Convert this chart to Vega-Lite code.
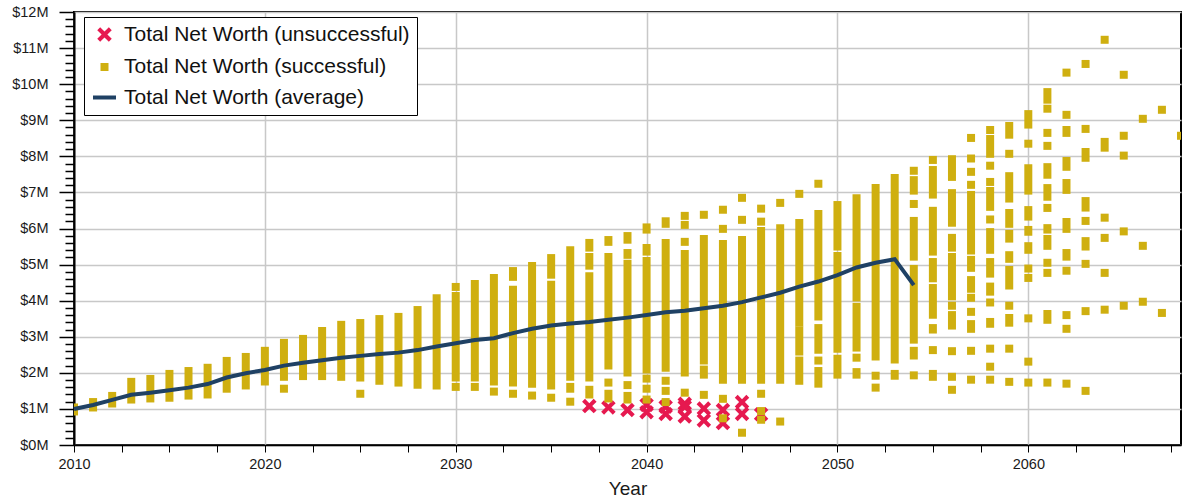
{
  "$schema": "https://vega.github.io/schema/vega-lite/v6.json",
  "width": 1107,
  "height": 433,
  "autosize": {"type": "none"},
  "padding": {"left": 74, "top": 12, "right": 2, "bottom": 54},
  "background": "white",
  "resolve": {"axis": {"y": "independent"}},
  "config": {
    "font": "Liberation Sans",
    "view": {"stroke": "black", "strokeWidth": 2},
    "axis": {
      "labelFont": "Liberation Sans",
      "titleFont": "Liberation Sans",
      "labelColor": "#1a1a1a",
      "titleColor": "#1a1a1a",
      "labelFontSize": 14.5,
      "titleFontSize": 19,
      "titleFontWeight": "normal",
      "domainColor": "black",
      "tickColor": "black",
      "gridColor": "#c8c8c8",
      "gridWidth": 1.5
    },
    "axisY": {"ticks": true, "tickColor": "#000000", "tickOpacity": 1, "tickWidth": 1.5, "zindex": 1},
    "legend": {
      "title": null,
      "orient": "none",
      "legendX": 10,
      "legendY": 5,
      "strokeColor": "black",
      "fillColor": "white",
      "padding": 7,
      "symbolSize": 529,
      "symbolStrokeWidth": 4,
      "labelFontSize": 21,
      "labelFont": "Liberation Sans",
      "labelColor": "#111111",
      "labelLimit": 0,
      "labelOffset": 6,
      "rowPadding": 4.5
    }
  },
  "datasets": {
    "successful": [
      {"year": 2010, "lo": 0.93, "hi": 1.04},
      {"year": 2011, "lo": 1.04, "hi": 1.19},
      {"year": 2012, "lo": 1.15, "hi": 1.36},
      {"year": 2013, "lo": 1.26, "hi": 1.75},
      {"year": 2014, "lo": 1.29, "hi": 1.83},
      {"year": 2015, "lo": 1.31, "hi": 1.97},
      {"year": 2016, "lo": 1.37, "hi": 2.05},
      {"year": 2017, "lo": 1.40, "hi": 2.14},
      {"year": 2018, "lo": 1.56, "hi": 2.33},
      {"year": 2019, "lo": 1.65, "hi": 2.44},
      {"year": 2020, "lo": 1.76, "hi": 2.61},
      {"year": 2021, "lo": 1.89, "hi": 2.83},
      {"year": 2021, "lo": 1.56, "hi": 1.56},
      {"year": 2022, "lo": 1.91, "hi": 2.94},
      {"year": 2023, "lo": 1.91, "hi": 3.16},
      {"year": 2024, "lo": 1.89, "hi": 3.33},
      {"year": 2025, "lo": 1.87, "hi": 3.38},
      {"year": 2025, "lo": 1.42, "hi": 1.42},
      {"year": 2026, "lo": 1.78, "hi": 3.49},
      {"year": 2027, "lo": 1.73, "hi": 3.55},
      {"year": 2028, "lo": 1.67, "hi": 3.74},
      {"year": 2029, "lo": 1.65, "hi": 4.07},
      {"year": 2030, "lo": 4.38, "hi": 4.38},
      {"year": 2030, "lo": 1.87, "hi": 4.13},
      {"year": 2030, "lo": 1.61, "hi": 1.61},
      {"year": 2031, "lo": 1.87, "hi": 4.46},
      {"year": 2031, "lo": 1.61, "hi": 1.61},
      {"year": 2032, "lo": 1.76, "hi": 4.63},
      {"year": 2032, "lo": 1.48, "hi": 1.48},
      {"year": 2033, "lo": 4.66, "hi": 4.82},
      {"year": 2033, "lo": 1.73, "hi": 4.30},
      {"year": 2033, "lo": 1.42, "hi": 1.42},
      {"year": 2034, "lo": 1.70, "hi": 4.96},
      {"year": 2034, "lo": 1.37, "hi": 1.37},
      {"year": 2035, "lo": 4.72, "hi": 5.18},
      {"year": 2035, "lo": 1.65, "hi": 4.44},
      {"year": 2035, "lo": 1.31, "hi": 1.31},
      {"year": 2036, "lo": 1.89, "hi": 5.40},
      {"year": 2036, "lo": 1.56, "hi": 1.61},
      {"year": 2036, "lo": 1.20, "hi": 1.20},
      {"year": 2037, "lo": 5.47, "hi": 5.60},
      {"year": 2037, "lo": 4.97, "hi": 5.21},
      {"year": 2037, "lo": 1.87, "hi": 4.68},
      {"year": 2037, "lo": 1.40, "hi": 1.53},
      {"year": 2038, "lo": 5.63, "hi": 5.68},
      {"year": 2038, "lo": 2.20, "hi": 5.21},
      {"year": 2038, "lo": 1.73, "hi": 1.73},
      {"year": 2038, "lo": 1.29, "hi": 1.42},
      {"year": 2039, "lo": 5.69, "hi": 5.79},
      {"year": 2039, "lo": 5.27, "hi": 5.32},
      {"year": 2039, "lo": 2.01, "hi": 5.02},
      {"year": 2039, "lo": 1.66, "hi": 1.66},
      {"year": 2039, "lo": 1.26, "hi": 1.36},
      {"year": 2040, "lo": 5.97, "hi": 6.03},
      {"year": 2040, "lo": 5.36, "hi": 5.46},
      {"year": 2040, "lo": 2.09, "hi": 5.10},
      {"year": 2040, "lo": 1.84, "hi": 1.84},
      {"year": 2040, "lo": 1.56, "hi": 1.56},
      {"year": 2040, "lo": 1.26, "hi": 1.26},
      {"year": 2041, "lo": 6.13, "hi": 6.20},
      {"year": 2041, "lo": 2.14, "hi": 5.60},
      {"year": 2041, "lo": 1.78, "hi": 1.78},
      {"year": 2041, "lo": 1.50, "hi": 1.50},
      {"year": 2041, "lo": 1.19, "hi": 1.19},
      {"year": 2042, "lo": 6.35, "hi": 6.35},
      {"year": 2042, "lo": 6.10, "hi": 6.10},
      {"year": 2042, "lo": 5.63, "hi": 5.63},
      {"year": 2042, "lo": 2.01, "hi": 5.29},
      {"year": 2042, "lo": 1.45, "hi": 1.45},
      {"year": 2043, "lo": 6.38, "hi": 6.38},
      {"year": 2043, "lo": 2.34, "hi": 5.71},
      {"year": 2043, "lo": 1.95, "hi": 2.09},
      {"year": 2043, "lo": 1.39, "hi": 1.39},
      {"year": 2044, "lo": 6.52, "hi": 6.52},
      {"year": 2044, "lo": 5.99, "hi": 5.99},
      {"year": 2044, "lo": 1.81, "hi": 5.57},
      {"year": 2044, "lo": 1.28, "hi": 1.28},
      {"year": 2044, "lo": 0.74, "hi": 0.74},
      {"year": 2045, "lo": 6.85, "hi": 6.85},
      {"year": 2045, "lo": 6.24, "hi": 6.24},
      {"year": 2045, "lo": 1.81, "hi": 5.68},
      {"year": 2045, "lo": 0.34, "hi": 0.34},
      {"year": 2046, "lo": 6.55, "hi": 6.55},
      {"year": 2046, "lo": 6.19, "hi": 6.19},
      {"year": 2046, "lo": 1.81, "hi": 5.93},
      {"year": 2046, "lo": 1.42, "hi": 1.42},
      {"year": 2046, "lo": 0.94, "hi": 0.94},
      {"year": 2046, "lo": 0.70, "hi": 0.70},
      {"year": 2047, "lo": 6.71, "hi": 6.71},
      {"year": 2047, "lo": 1.81, "hi": 6.01},
      {"year": 2047, "lo": 0.65, "hi": 0.65},
      {"year": 2048, "lo": 6.96, "hi": 6.96},
      {"year": 2048, "lo": 3.39, "hi": 6.15},
      {"year": 2048, "lo": 2.59, "hi": 3.17},
      {"year": 2048, "lo": 1.78, "hi": 2.34},
      {"year": 2049, "lo": 7.24, "hi": 7.24},
      {"year": 2049, "lo": 3.56, "hi": 6.40},
      {"year": 2049, "lo": 2.64, "hi": 3.24},
      {"year": 2049, "lo": 2.34, "hi": 2.34},
      {"year": 2049, "lo": 1.70, "hi": 2.05},
      {"year": 2050, "lo": 5.50, "hi": 6.65},
      {"year": 2050, "lo": 2.67, "hi": 5.24},
      {"year": 2050, "lo": 1.95, "hi": 2.39},
      {"year": 2051, "lo": 4.09, "hi": 6.84},
      {"year": 2051, "lo": 2.70, "hi": 3.83},
      {"year": 2051, "lo": 2.42, "hi": 2.42},
      {"year": 2051, "lo": 1.95, "hi": 2.02},
      {"year": 2052, "lo": 2.45, "hi": 7.12},
      {"year": 2052, "lo": 1.92, "hi": 1.92},
      {"year": 2052, "lo": 1.59, "hi": 1.59},
      {"year": 2053, "lo": 2.37, "hi": 7.40},
      {"year": 2053, "lo": 1.92, "hi": 1.97},
      {"year": 2054, "lo": 7.60, "hi": 7.60},
      {"year": 2054, "lo": 7.05, "hi": 7.34},
      {"year": 2054, "lo": 6.68, "hi": 6.68},
      {"year": 2054, "lo": 5.22, "hi": 6.21},
      {"year": 2054, "lo": 2.92, "hi": 4.88},
      {"year": 2054, "lo": 2.48, "hi": 2.61},
      {"year": 2054, "lo": 1.93, "hi": 1.93},
      {"year": 2055, "lo": 7.90, "hi": 7.90},
      {"year": 2055, "lo": 6.94, "hi": 7.62},
      {"year": 2055, "lo": 5.36, "hi": 6.49},
      {"year": 2055, "lo": 4.62, "hi": 5.07},
      {"year": 2055, "lo": 3.61, "hi": 4.35},
      {"year": 2055, "lo": 3.20, "hi": 3.24},
      {"year": 2055, "lo": 2.63, "hi": 2.63},
      {"year": 2055, "lo": 1.89, "hi": 1.97},
      {"year": 2056, "lo": 7.43, "hi": 7.92},
      {"year": 2056, "lo": 6.16, "hi": 6.98},
      {"year": 2056, "lo": 5.47, "hi": 5.74},
      {"year": 2056, "lo": 4.12, "hi": 5.21},
      {"year": 2056, "lo": 3.86, "hi": 3.86},
      {"year": 2056, "lo": 3.31, "hi": 3.60},
      {"year": 2056, "lo": 2.60, "hi": 2.60},
      {"year": 2056, "lo": 1.89, "hi": 1.89},
      {"year": 2056, "lo": 1.53, "hi": 1.53},
      {"year": 2057, "lo": 8.51, "hi": 8.51},
      {"year": 2057, "lo": 7.94, "hi": 7.94},
      {"year": 2057, "lo": 7.57, "hi": 7.57},
      {"year": 2057, "lo": 7.21, "hi": 7.21},
      {"year": 2057, "lo": 5.39, "hi": 6.93},
      {"year": 2057, "lo": 4.91, "hi": 5.13},
      {"year": 2057, "lo": 4.33, "hi": 4.57},
      {"year": 2057, "lo": 4.08, "hi": 4.08},
      {"year": 2057, "lo": 3.69, "hi": 3.69},
      {"year": 2057, "lo": 3.22, "hi": 3.35},
      {"year": 2057, "lo": 2.61, "hi": 2.61},
      {"year": 2057, "lo": 1.81, "hi": 1.81},
      {"year": 2058, "lo": 8.73, "hi": 8.73},
      {"year": 2058, "lo": 8.07, "hi": 8.48},
      {"year": 2058, "lo": 7.74, "hi": 7.74},
      {"year": 2058, "lo": 7.29, "hi": 7.29},
      {"year": 2058, "lo": 6.60, "hi": 7.04},
      {"year": 2058, "lo": 6.25, "hi": 6.25},
      {"year": 2058, "lo": 5.41, "hi": 5.90},
      {"year": 2058, "lo": 4.75, "hi": 5.07},
      {"year": 2058, "lo": 4.25, "hi": 4.39},
      {"year": 2058, "lo": 3.95, "hi": 3.95},
      {"year": 2058, "lo": 3.36, "hi": 3.41},
      {"year": 2058, "lo": 2.67, "hi": 2.67},
      {"year": 2058, "lo": 2.17, "hi": 2.17},
      {"year": 2058, "lo": 1.81, "hi": 1.81},
      {"year": 2059, "lo": 8.60, "hi": 8.84},
      {"year": 2059, "lo": 8.07, "hi": 8.07},
      {"year": 2059, "lo": 6.83, "hi": 7.45},
      {"year": 2059, "lo": 6.13, "hi": 6.43},
      {"year": 2059, "lo": 5.72, "hi": 5.85},
      {"year": 2059, "lo": 5.16, "hi": 5.26},
      {"year": 2059, "lo": 4.42, "hi": 4.85},
      {"year": 2059, "lo": 3.86, "hi": 3.86},
      {"year": 2059, "lo": 3.39, "hi": 3.52},
      {"year": 2059, "lo": 2.67, "hi": 2.67},
      {"year": 2059, "lo": 1.75, "hi": 1.75},
      {"year": 2060, "lo": 8.88, "hi": 9.17},
      {"year": 2060, "lo": 8.35, "hi": 8.35},
      {"year": 2060, "lo": 7.05, "hi": 7.67},
      {"year": 2060, "lo": 6.33, "hi": 6.51},
      {"year": 2060, "lo": 5.91, "hi": 5.96},
      {"year": 2060, "lo": 5.41, "hi": 5.51},
      {"year": 2060, "lo": 4.89, "hi": 4.89},
      {"year": 2060, "lo": 4.63, "hi": 4.63},
      {"year": 2060, "lo": 3.51, "hi": 3.51},
      {"year": 2060, "lo": 2.31, "hi": 2.31},
      {"year": 2060, "lo": 1.73, "hi": 1.73},
      {"year": 2061, "lo": 9.57, "hi": 9.78},
      {"year": 2061, "lo": 9.32, "hi": 9.32},
      {"year": 2061, "lo": 8.65, "hi": 8.65},
      {"year": 2061, "lo": 8.29, "hi": 8.29},
      {"year": 2061, "lo": 7.49, "hi": 7.70},
      {"year": 2061, "lo": 6.88, "hi": 7.12},
      {"year": 2061, "lo": 6.57, "hi": 6.57},
      {"year": 2061, "lo": 5.97, "hi": 6.01},
      {"year": 2061, "lo": 5.52, "hi": 5.71},
      {"year": 2061, "lo": 5.05, "hi": 5.05},
      {"year": 2061, "lo": 4.77, "hi": 4.77},
      {"year": 2061, "lo": 3.47, "hi": 3.63},
      {"year": 2061, "lo": 1.73, "hi": 1.73},
      {"year": 2062, "lo": 10.32, "hi": 10.32},
      {"year": 2062, "lo": 9.15, "hi": 9.15},
      {"year": 2062, "lo": 8.65, "hi": 8.73},
      {"year": 2062, "lo": 7.71, "hi": 7.87},
      {"year": 2062, "lo": 7.07, "hi": 7.26},
      {"year": 2062, "lo": 5.99, "hi": 6.18},
      {"year": 2062, "lo": 5.22, "hi": 5.32},
      {"year": 2062, "lo": 4.83, "hi": 4.83},
      {"year": 2062, "lo": 3.60, "hi": 3.60},
      {"year": 2062, "lo": 3.22, "hi": 3.22},
      {"year": 2062, "lo": 1.70, "hi": 1.70},
      {"year": 2063, "lo": 10.56, "hi": 10.56},
      {"year": 2063, "lo": 8.76, "hi": 8.76},
      {"year": 2063, "lo": 7.96, "hi": 8.12},
      {"year": 2063, "lo": 6.58, "hi": 6.76},
      {"year": 2063, "lo": 6.21, "hi": 6.21},
      {"year": 2063, "lo": 5.50, "hi": 5.65},
      {"year": 2063, "lo": 5.02, "hi": 5.02},
      {"year": 2063, "lo": 3.71, "hi": 3.71},
      {"year": 2063, "lo": 1.50, "hi": 1.50},
      {"year": 2064, "lo": 11.23, "hi": 11.23},
      {"year": 2064, "lo": 8.24, "hi": 8.40},
      {"year": 2064, "lo": 6.30, "hi": 6.30},
      {"year": 2064, "lo": 5.74, "hi": 5.74},
      {"year": 2064, "lo": 4.77, "hi": 4.77},
      {"year": 2064, "lo": 3.75, "hi": 3.75},
      {"year": 2065, "lo": 10.26, "hi": 10.26},
      {"year": 2065, "lo": 8.57, "hi": 8.57},
      {"year": 2065, "lo": 8.02, "hi": 8.02},
      {"year": 2065, "lo": 5.92, "hi": 5.92},
      {"year": 2065, "lo": 3.86, "hi": 3.86},
      {"year": 2066, "lo": 9.04, "hi": 9.04},
      {"year": 2066, "lo": 5.52, "hi": 5.52},
      {"year": 2066, "lo": 3.97, "hi": 3.97},
      {"year": 2067, "lo": 9.29, "hi": 9.29},
      {"year": 2067, "lo": 3.66, "hi": 3.66},
      {"year": 2068, "lo": 8.57, "hi": 8.57}
    ],
    "unsuccessful": [
      {"year": 2037, "worth": 1.08},
      {"year": 2038, "worth": 1.04},
      {"year": 2039, "worth": 0.97},
      {"year": 2040, "worth": 1.11},
      {"year": 2040, "worth": 0.91},
      {"year": 2041, "worth": 1.06},
      {"year": 2041, "worth": 0.86},
      {"year": 2042, "worth": 1.14},
      {"year": 2042, "worth": 1.06},
      {"year": 2042, "worth": 0.79},
      {"year": 2043, "worth": 1.01},
      {"year": 2043, "worth": 0.68},
      {"year": 2044, "worth": 0.97},
      {"year": 2044, "worth": 0.61},
      {"year": 2045, "worth": 1.19},
      {"year": 2045, "worth": 0.86},
      {"year": 2046, "worth": 0.85}
    ],
    "average": [
      {"year": 2010, "worth": 1.00},
      {"year": 2011, "worth": 1.11},
      {"year": 2012, "worth": 1.25},
      {"year": 2013, "worth": 1.39},
      {"year": 2014, "worth": 1.45},
      {"year": 2015, "worth": 1.52},
      {"year": 2016, "worth": 1.59},
      {"year": 2017, "worth": 1.69},
      {"year": 2018, "worth": 1.87},
      {"year": 2019, "worth": 1.99},
      {"year": 2020, "worth": 2.08},
      {"year": 2021, "worth": 2.20},
      {"year": 2022, "worth": 2.28},
      {"year": 2023, "worth": 2.35},
      {"year": 2024, "worth": 2.42},
      {"year": 2025, "worth": 2.47},
      {"year": 2026, "worth": 2.52},
      {"year": 2027, "worth": 2.56},
      {"year": 2028, "worth": 2.63},
      {"year": 2029, "worth": 2.73},
      {"year": 2030, "worth": 2.82},
      {"year": 2031, "worth": 2.91},
      {"year": 2032, "worth": 2.96},
      {"year": 2033, "worth": 3.10},
      {"year": 2034, "worth": 3.22},
      {"year": 2035, "worth": 3.31},
      {"year": 2036, "worth": 3.37},
      {"year": 2037, "worth": 3.41},
      {"year": 2038, "worth": 3.47},
      {"year": 2039, "worth": 3.53},
      {"year": 2040, "worth": 3.60},
      {"year": 2041, "worth": 3.68},
      {"year": 2042, "worth": 3.72},
      {"year": 2043, "worth": 3.79},
      {"year": 2044, "worth": 3.86},
      {"year": 2045, "worth": 3.96},
      {"year": 2046, "worth": 4.09},
      {"year": 2047, "worth": 4.22},
      {"year": 2048, "worth": 4.39},
      {"year": 2049, "worth": 4.53},
      {"year": 2050, "worth": 4.71},
      {"year": 2051, "worth": 4.92},
      {"year": 2052, "worth": 5.05},
      {"year": 2053, "worth": 5.15},
      {"year": 2054, "worth": 4.43}
    ]
  },
  "layer": [
    {
      "data": {"name": "unsuccessful"},
      "mark": {
        "type": "point",
        "filled": true,
        "opacity": 1,
        "strokeWidth": 4
      },
      "encoding": {
        "x": {
          "field": "year",
          "type": "quantitative",
          "scale": {"domain": [2010, 2068], "nice": false, "zero": false},
          "axis": {
            "title": "Year",
            "values": [2010, 2012.5, 2015, 2017.5, 2020, 2022.5, 2025, 2027.5, 2030, 2032.5, 2035, 2037.5, 2040, 2042.5, 2045, 2047.5, 2050, 2052.5, 2055, 2057.5, 2060, 2062.5, 2065, 2067.5],
            "labelExpr": "datum.value % 10 === 0 ? '' + datum.value : ''",
            "labelFlush": false,
            "labelOverlap": false,
            "labelPadding": 5,
            "tickSize": 7,
            "domainWidth": 1.5,
            "titlePadding": 9,
            "grid": true,
            "gridOpacity": {"condition": {"test": "datum.value % 10 === 0", "value": 1}, "value": 0}
          }
        },
        "y": {
          "field": "worth",
          "type": "quantitative",
          "scale": {"domain": [0, 12], "nice": false},
          "axis": {
            "title": null,
            "orient": "left",
            "values": [0, 1, 2, 3, 4, 5, 6, 7, 8, 9, 10, 11, 12],
            "tickCount": 20,
            "labelExpr": "'$' + datum.value + 'M'",
            "labelOverlap": false,
            "labelPadding": 11,
            "ticks": true,
            "tickSize": 15,
            "tickColor": "#000000",
            "tickOpacity": 1,
            "domainWidth": 2,
            "grid": true
          }
        },
        "fill": {
          "datum": "Total Net Worth (unsuccessful)",
          "type": "nominal",
          "scale": {
            "domain": ["Total Net Worth (unsuccessful)", "Total Net Worth (successful)", "Total Net Worth (average)"],
            "range": ["#E6194F", "#CFAF10", "transparent"]
          }
        },
        "stroke": {
          "datum": "Total Net Worth (unsuccessful)",
          "type": "nominal",
          "scale": {
            "domain": ["Total Net Worth (unsuccessful)", "Total Net Worth (successful)", "Total Net Worth (average)"],
            "range": ["transparent", "transparent", "#1F4164"]
          }
        },
        "shape": {
          "datum": "Total Net Worth (unsuccessful)",
          "type": "nominal",
          "scale": {
            "domain": ["Total Net Worth (unsuccessful)", "Total Net Worth (successful)", "Total Net Worth (average)"],
            "range": ["M0,-0.4L0.6,-1L1,-0.6L0.4,0L1,0.6L0.6,1L0,0.4L-0.6,1L-1,0.6L-0.4,0L-1,-0.6L-0.6,-1Z", "square", "stroke"]
          }
        },
        "size": {
          "datum": "Total Net Worth (unsuccessful)",
          "type": "nominal",
          "scale": {
            "type": "ordinal",
            "domain": ["Total Net Worth (unsuccessful)", "Total Net Worth (successful)", "Total Net Worth (average)"],
            "range": [210, 64, 529]
          }
        }
      }
    },
    {
      "data": {"name": "successful"},
      "mark": {"type": "rule", "color": "#CFAF10", "strokeWidth": 8, "strokeCap": "square", "clip": true, "opacity": 1},
      "encoding": {
        "x": {"field": "year", "type": "quantitative"},
        "y": {
          "field": "lo",
          "type": "quantitative",
          "axis": {
            "title": null,
            "orient": "left",
            "values": [0.2, 0.4, 0.6, 0.8, 1.2, 1.4, 1.6, 1.8, 2.2, 2.4, 2.6, 2.8, 3.2, 3.4, 3.6, 3.8, 4.2, 4.4, 4.6, 4.8, 5.2, 5.4, 5.6, 5.8, 6.2, 6.4, 6.6, 6.8, 7.2, 7.4, 7.6, 7.8, 8.2, 8.4, 8.6, 8.8, 9.2, 9.4, 9.6, 9.8, 10.2, 10.4, 10.6, 10.8, 11.2, 11.4, 11.6, 11.8],
            "tickCount": 100,
            "labels": false,
            "grid": false,
            "domain": false,
            "ticks": true,
            "tickSize": 9,
            "tickColor": "#000000",
            "tickOpacity": 1
          }
        },
        "y2": {"field": "hi"}
      }
    },
    {
      "data": {"name": "average"},
      "mark": {"type": "line", "color": "#1F4164", "strokeWidth": 4, "opacity": 1},
      "encoding": {
        "x": {"field": "year", "type": "quantitative"},
        "y": {"field": "worth", "type": "quantitative", "axis": null}
      }
    }
  ]
}
